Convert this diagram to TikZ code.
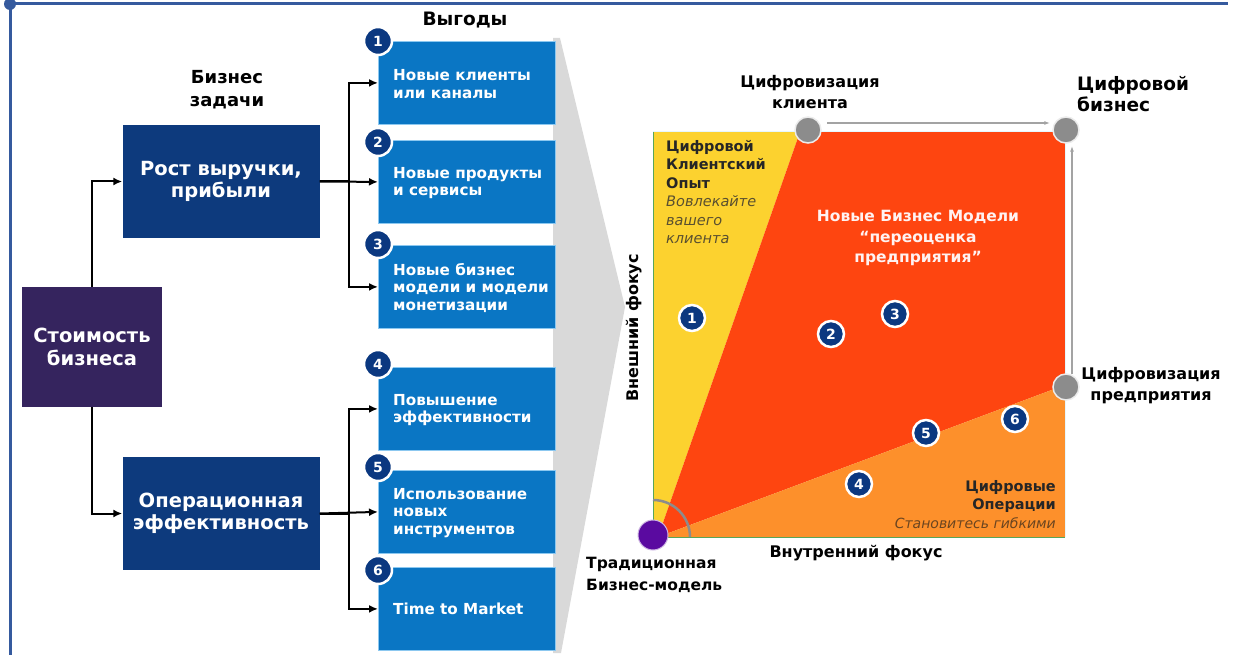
\documentclass[tikz,border=0pt]{standalone}
\usepackage{fontspec}
\setmainfont{DejaVu Sans}
\usetikzlibrary{arrows.meta,calc}
\definecolor{framec}{HTML}{355A9E}
\definecolor{pboxc}{HTML}{35245E}
\definecolor{dbluec}{HTML}{0D3A7D}
\definecolor{bbluec}{HTML}{0A76C4}
\definecolor{bedgec}{HTML}{8CC8F0}
\definecolor{ncircc}{HTML}{0B3880}
\definecolor{funnelc}{HTML}{D9D9D9}
\definecolor{yelc}{HTML}{FCD22F}
\definecolor{redc}{HTML}{FE4510}
\definecolor{orac}{HTML}{FD902B}
\definecolor{greyc}{HTML}{8C8C8C}
\definecolor{purc}{HTML}{5A0AA0}
\definecolor{itc}{HTML}{5A5030}
\definecolor{itoc}{HTML}{6B4520}
\begin{document}
\begin{tikzpicture}[x=1pt,y=-1pt,
  bbox/.style={fill=bbluec, draw=bedgec, line width=0.8pt, minimum width=177pt, minimum height=83pt, inner sep=0pt, anchor=north west},
  btext/.style={anchor=west, align=left, text=white, font=\bfseries\fontsize{15.2}{17.5}\selectfont, inner sep=0pt},
  numc/.style={circle, fill=ncircc, draw=white, line width=2.5pt, minimum size=28pt, inner sep=0pt, text=white, font=\bfseries\fontsize{14}{14}\selectfont},
  dbox/.style={fill=dbluec, minimum width=197pt, minimum height=113pt, inner sep=0pt, text=white, align=center, font=\bfseries\fontsize{19.5}{22}\selectfont},
  arr/.style={-{Latex[length=9pt,width=8pt]}, line width=2pt},
  garr/.style={-{Latex[length=6pt,width=4pt]}, line width=1.2pt, draw=greyc!80},
  gcirc/.style={circle, fill=greyc, draw=white!85!gray, line width=1.5pt, minimum size=26pt, inner sep=0pt},
  lbl/.style={text=black, font=\bfseries\fontsize{16}{21}\selectfont, align=center, inner sep=0pt},
  sqt/.style={font=\bfseries\fontsize{14.5}{18.5}\selectfont, inner sep=0pt},
]
\useasboundingbox (0,0) rectangle (1237,655);
% frame
\draw[framec, line width=3pt] (10,655) -- (10,4) -- (1228,4);
\fill[framec] (10,4) circle (6pt);
% funnel
\fill[funnelc] (553,38) -- (560,38) -- (625,307) -- (561,653) -- (553,653) -- cycle;
% left boxes
\node[fill=pboxc, minimum width=140pt, minimum height=120pt, inner sep=0pt, text=white, align=center, font=\bfseries\fontsize{19.5}{23}\selectfont] (val) at (92,347) {Стоимость\\бизнеса};
\node[dbox] (rost) at (221,181.5) {Рост выручки,\\прибыли};
\node[dbox] (oper) at (221,513.5) {Операционная\\эффективность};
\node[lbl, font=\bfseries\fontsize{18}{23}\selectfont] (bz) at (227,90) {Бизнес\\задачи};
\node[lbl, font=\bfseries\fontsize{18.5}{20}\selectfont] (vyg) at (465,20) {Выгоды};
% blue boxes
\node[bbox] (b1) at (378,41) {};
\node[bbox] (b2) at (378,140) {};
\node[bbox] (b3) at (378,245) {};
\node[bbox] (b4) at (378,367) {};
\node[bbox] (b5) at (378,470) {};
\node[bbox] (b6) at (378,567) {};
\node[btext] (t1) at ($(b1.west)+(15,1)$) {Новые клиенты\\или каналы};
\node[btext] (t2) at ($(b2.west)+(15,1)$) {Новые продукты\\и сервисы};
\node[btext] (t3) at ($(b3.west)+(15,1)$) {Новые бизнес\\модели и модели\\монетизации};
\node[btext] (t4) at ($(b4.west)+(15,1)$) {Повышение\\эффективности};
\node[btext] (t5) at ($(b5.west)+(15,1)$) {Использование\\новых\\инструментов};
\node[btext] (t6) at ($(b6.west)+(15,0)$) {Time to Market};
\node[numc] (c1) at (378,41) {1};
\node[numc] (c2) at (378,142) {2};
\node[numc] (c3) at (378,244) {3};
\node[numc] (c4) at (378,364) {4};
\node[numc] (c5) at (378,467) {5};
\node[numc] (c6) at (378,570) {6};
% arrows
\draw[arr] (val.north) |- (rost.west);
\draw[arr] (val.south) |- (oper.west);
\draw[arr] (rost.east) -- (b2.west);
\draw[arr] (rost.east) -- ++(29,0) |- (b1.west);
\draw[arr] (rost.east) -- ++(29,0) |- (b3.west);
\draw[arr] (oper.east) -- (b5.west);
\draw[arr] (oper.east) -- ++(29,0) |- (b4.west);
\draw[arr] (oper.east) -- ++(29,0) |- (b6.west);
% square
\fill[yelc] (653,132) -- (800,132) -- (658,537) -- (653,537) -- cycle;
\fill[redc] (800,132) -- (1065,132) -- (1065,385) -- (658,537) -- cycle;
\fill[orac] (658,537) -- (1065,385) -- (1065,537) -- cycle;
\draw[cyan!10!white, line width=1pt] (653,132) -- (1065,132) -- (1065,537);
\draw[green!30!gray, line width=0.8pt] (653,132) -- (653,537) -- (1065,537);
\draw[greyc, line width=2.5pt] (690,537) arc[start angle=0, end angle=90, radius=37pt];
% square texts
\node[sqt, anchor=north west, align=left, text=black!85] (yt) at (666,140) {Цифровой\\Клиентский\\Опыт};
\node[anchor=north west, align=left, inner sep=0pt, text=itc, font=\itshape\fontsize{14.5}{18.5}\selectfont] (yi) at (666,195.5) {Вовлекайте\\вашего\\клиента};
\node[align=center, inner sep=0pt, text=white!95!red, font=\bfseries\fontsize{15.5}{20.5}\selectfont] (rt) at (918,238) {Новые Бизнес Модели\\“переоценка\\предприятия”};
\node[sqt, anchor=north east, align=right, text=black!85] (ot) at (1056,480) {Цифровые\\Операции};
\node[anchor=north east, inner sep=0pt, text=itoc, font=\itshape\fontsize{14}{16}\selectfont] (oi) at (1056,517) {Становитесь гибкими};
\node[numc, minimum size=26pt] (m1) at (692,318) {1};
\node[numc, minimum size=26pt] (m2) at (831,334) {2};
\node[numc, minimum size=26pt] (m3) at (895,314) {3};
\node[numc, minimum size=26pt] (m4) at (859,484) {4};
\node[numc, minimum size=26pt] (m5) at (926,433) {5};
\node[numc, minimum size=26pt] (m6) at (1015,419) {6};
% corner circles
\node[gcirc] (g1) at (808,130) {};
\node[gcirc] (g2) at (1066,130) {};
\node[gcirc] (g3) at (1066,387) {};
\node[circle, fill=purc, draw=purc!30!white, line width=1pt, minimum size=30pt, inner sep=0pt] (g0) at (653,535) {};
\draw[garr] ([yshift=7pt,xshift=5pt]g1.east) -- ([yshift=7pt,xshift=-2pt]g2.west);
\draw[garr] ([xshift=6pt,yshift=-1pt]g3.north) -- ([xshift=6pt,yshift=-2pt]g2.south);
% labels
\node[lbl] (lc) at (810,92.5) {Цифровизация\\клиента};
\node[lbl, anchor=west, align=left, font=\bfseries\fontsize{18.5}{21}\selectfont] (lb) at (1077,94) {Цифровой\\бизнес};
\node[lbl] (lp) at (1151,385.5) {Цифровизация\\предприятия};
\node[lbl, rotate=90] (lv) at (634,328) {Внешний фокус};
\node[lbl] (li) at (856,553) {Внутренний фокус};
\node[lbl, anchor=west, align=left, font=\bfseries\fontsize{15.5}{22}\selectfont] (lt) at (586,575) {Традиционная\\Бизнес-модель};
\end{tikzpicture}
\end{document}
